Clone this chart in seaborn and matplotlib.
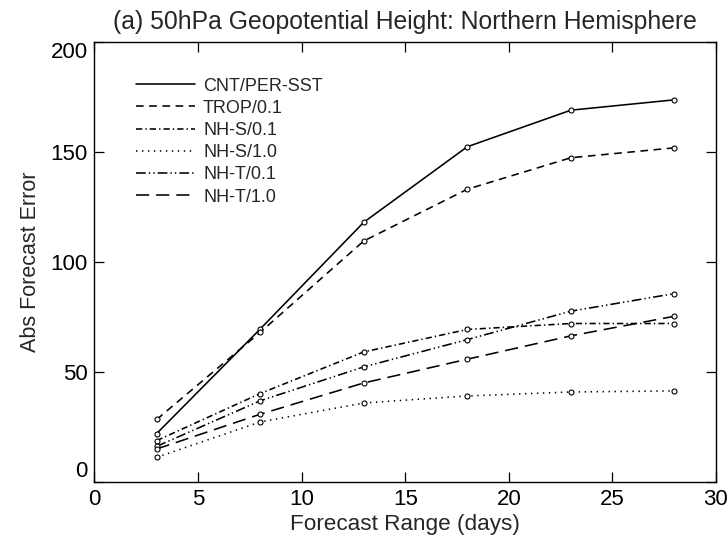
import matplotlib
matplotlib.use("Agg")
import matplotlib.pyplot as plt
from matplotlib.lines import Line2D
import seaborn as sns
import pandas as pd

days = [3, 8, 13, 18, 23, 28]
cnt_per_sst = [22.0, 69.5, 118.0, 152.3, 168.9, 173.6]
trop_01 = [28.4, 68.0, 109.5, 133.0, 147.3, 151.8]
nhs_01 = [18.8, 40.2, 59.1, 69.3, 72.0, 72.0]
nhs_10 = [11.2, 27.3, 35.9, 39.1, 40.9, 41.4]
nht_01 = [16.2, 36.9, 52.3, 64.7, 77.6, 85.6]
nht_10 = [15.0, 30.8, 45.0, 55.8, 66.4, 75.3]

labels = ["CNT/PER-SST", "TROP/0.1", "NH-S/0.1", "NH-S/1.0", "NH-T/0.1", "NH-T/1.0"]
series = [cnt_per_sst, trop_01, nhs_01, nhs_10, nht_01, nht_10]

title = "(a) 50hPa Geopotential Height: Northern Hemisphere"
xlabel = "Forecast Range (days)"
ylabel = "Abs Forecast Error"
xticks = [0, 5, 10, 15, 20, 25, 30]
yticks = [0, 50, 100, 150, 200]

styles = [
    "-",
    (0, (5.5, 4.0)),
    (0, (4.5, 2.2, 1.0, 2.2)),
    (0, (1.0, 3.3)),
    (0, (7.0, 2.2, 1.0, 2.2, 1.0, 2.2)),
    (0, (9.5, 5.0)),
]

sns.set_theme(style="ticks")
plt.rcParams["font.family"] = ["Liberation Sans", "DejaVu Sans"]
plt.rcParams["lines.scale_dashes"] = False

fig = plt.figure(figsize=(7.28, 5.43), dpi=100)
ax = fig.add_axes([0.1298, 0.1123, 0.8536, 0.8109])

df = pd.DataFrame({
    "day": days * len(labels),
    "value": [v for s in series for v in s],
    "run": [lab for lab in labels for _ in days],
})

handles = []
for lab, ls in zip(labels, styles):
    sub = df[df["run"] == lab]
    sns.lineplot(data=sub, x="day", y="value", ax=ax, color="black",
                 linewidth=1.15, marker="o", markersize=3.6,
                 markerfacecolor="white", markeredgecolor="black",
                 markeredgewidth=0.8, legend=False)
    ax.lines[-1].set_linestyle(ls)
    handles.append(Line2D([0], [0], color="black", linewidth=1.15, linestyle=ls))

ax.set_xlim(0, 30)
ax.set_ylim(0, 200)
ax.set_xticks(xticks)
ax.set_yticks(yticks)
ax.set_xticklabels([str(t) for t in xticks], fontsize=16)
ax.set_yticklabels([str(t) for t in yticks], fontsize=16)
ylabs = ax.get_yticklabels()
ylabs[0].set_va("bottom")
ylabs[-1].set_va("top")
ax.tick_params(direction="in", length=7, width=0.9, top=True, right=True,
               colors="black", pad=5)
for sp in ax.spines.values():
    sp.set_visible(True)
    sp.set_color("black")
    sp.set_linewidth(1.0)

ax.set_xlabel(xlabel, fontsize=16.2, labelpad=3)
ax.set_ylabel(ylabel, fontsize=15.5, labelpad=7)
ax.set_title(title, fontsize=17.8, pad=9)

ax.legend(handles, labels, loc="upper left", bbox_to_anchor=(0.055, 0.935),
          frameon=False, fontsize=13, handlelength=3.27, handletextpad=0.45,
          labelspacing=0.29, borderaxespad=0)

fig.savefig("out.png", dpi=100, facecolor="white")
